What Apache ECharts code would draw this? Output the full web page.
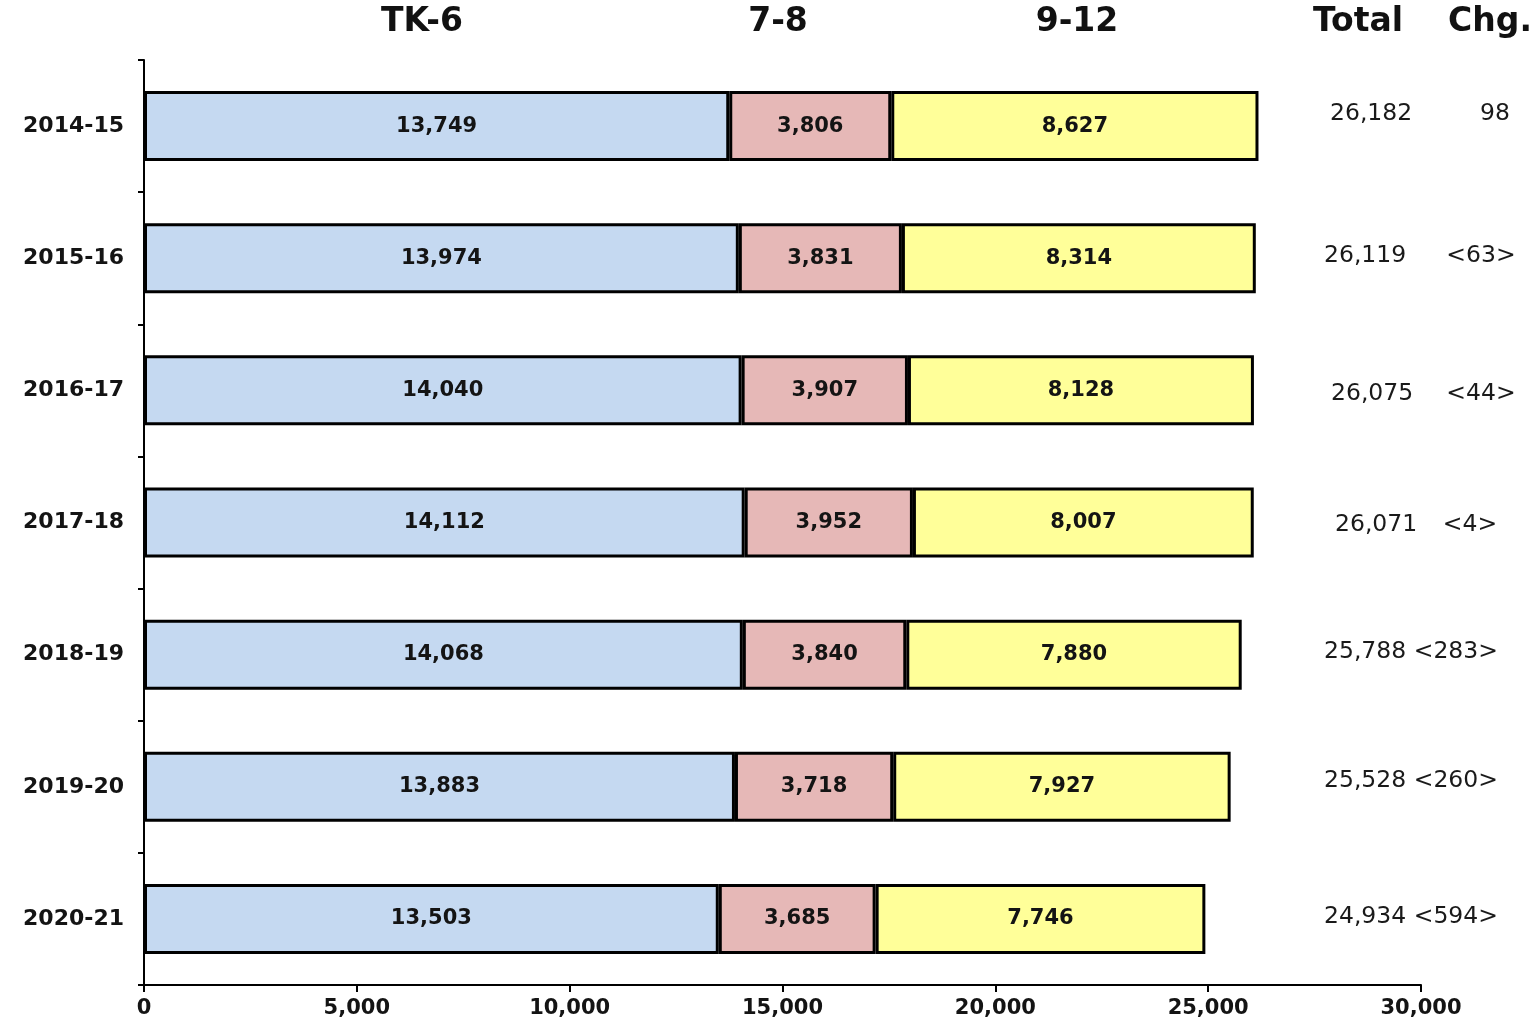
<!DOCTYPE html>
<html>
<head>
<meta charset="utf-8">
<script src="https://cdn.jsdelivr.net/npm/echarts@6/dist/echarts.min.js"></script>
<style>
html,body{margin:0;padding:0;background:#fff;}
#chart{width:1535px;height:1027px;}
</style>
</head>
<body>
<div id="chart"></div>
<script>
const years = ['2014-15','2015-16','2016-17','2017-18','2018-19','2019-20','2020-21'];
const tk6 = [13749, 13974, 14040, 14112, 14068, 13883, 13503];
const g78 = [3806, 3831, 3907, 3952, 3840, 3718, 3685];
const g912 = [8627, 8314, 8128, 8007, 7880, 7927, 7746];
const totals = [26182, 26119, 26075, 26071, 25788, 25528, 24934];
const changes = ['98', '<63>', '<44>', '<4>', '<283>', '<260>', '<594>'];
const headers = ['TK-6', '7-8', '9-12', 'Total', 'Chg.'];

const FONT = 'DejaVu Sans, Verdana, sans-serif';
const fmt = v => v.toLocaleString('en-US');

const chart = echarts.init(document.getElementById('chart'));

function barSeries(name, data, color) {
  return {
    name: name,
    type: 'bar',
    stack: 'all',
    data: data,
    barWidth: 70,
    itemStyle: { color: color, borderColor: '#000', borderWidth: 3 },
    label: {
      show: true,
      position: 'inside',
      formatter: p => fmt(p.value),
      fontFamily: FONT,
      fontWeight: 'bold',
      fontSize: 21,
      color: '#141414'
    },
    emphasis: { disabled: true },
    silent: true
  };
}

chart.setOption({
  animation: false,
  backgroundColor: '#fff',
  grid: { left: 144, right: 114, top: 60, bottom: 42, containLabel: false },
  xAxis: {
    type: 'value',
    min: 0, max: 30000, interval: 5000,
    axisLine: { show: true, lineStyle: { color: '#000', width: 2 } },
    axisTick: { show: true, length: 7, lineStyle: { color: '#000', width: 2 } },
    splitLine: { show: false },
    axisLabel: {
      formatter: v => fmt(v),
      fontFamily: FONT, fontWeight: 'bold', fontSize: 21, color: '#141414', margin: 13
    }
  },
  yAxis: {
    type: 'category',
    data: years,
    inverse: true,
    axisLine: { show: true, lineStyle: { color: '#000', width: 2 } },
    axisTick: { show: true, length: 6, lineStyle: { color: '#000', width: 2 } },
    axisLabel: {
      fontFamily: FONT, fontWeight: 'bold', fontSize: 22, color: '#141414', margin: 20
    }
  },
  series: [
    barSeries('TK-6', tk6, '#C5D9F1'),
    barSeries('7-8', g78, '#E6B8B7'),
    barSeries('9-12', g912, '#FFFF99')
  ]
});

// layout of the header row and the totals / change column (pixels)
const headerX = [422, 778, 1077, 1358, 1490];
const totalX = [1330, 1324, 1331, 1335, 1324, 1324, 1324];
const chgX = [1495, 1481, 1481, 1470];
const totalDy = [-12, -2, 4, 2, -3, -6, -2];

const graphics = [];
headers.forEach((h, i) => {
  graphics.push({
    type: 'text', x: headerX[i], y: 22,
    style: { text: h, fill: '#111', font: 'bold 33px ' + FONT, align: 'center', verticalAlign: 'middle' },
    silent: true
  });
});
years.forEach((y, i) => {
  const cy = chart.convertToPixel({ yAxisIndex: 0 }, y) + totalDy[i];
  const combined = i >= 4;
  graphics.push({
    type: 'text', x: totalX[i], y: cy,
    style: {
      text: combined ? fmt(totals[i]) + ' ' + changes[i] : fmt(totals[i]),
      fill: '#1a1a1a', font: '23.5px ' + FONT, align: 'left', verticalAlign: 'middle'
    },
    silent: true
  });
  if (!combined) {
    graphics.push({
      type: 'text', x: chgX[i], y: cy,
      style: { text: changes[i], fill: '#1a1a1a', font: '23.5px ' + FONT, align: 'center', verticalAlign: 'middle' },
      silent: true
    });
  }
});
chart.setOption({ graphic: graphics });
</script>
</body>
</html>
